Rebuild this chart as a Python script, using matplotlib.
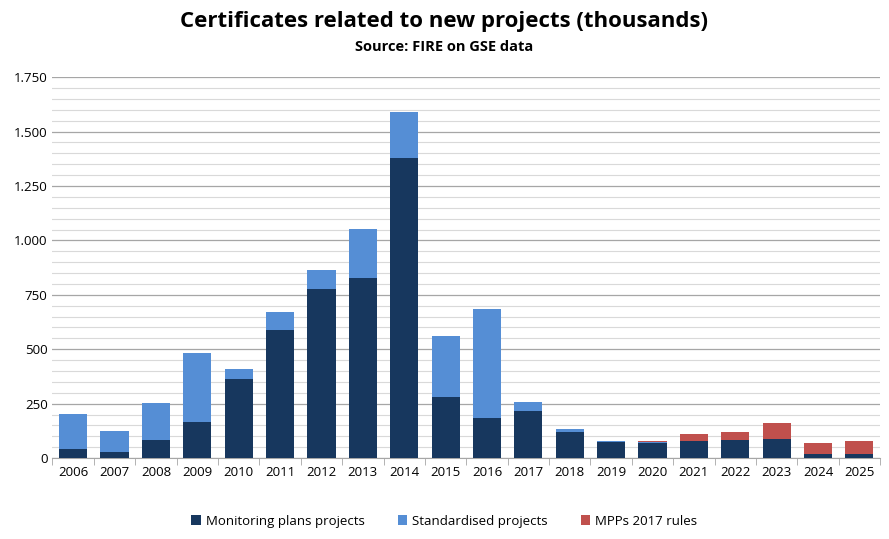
import numpy as np
import matplotlib
matplotlib.use('Agg')
import matplotlib.pyplot as plt
from matplotlib.ticker import MultipleLocator, FuncFormatter

plt.rcParams['font.family'] = ['Open Sans', 'DejaVu Sans']

# Data (thousands of certificates)
years = [str(y) for y in range(2006, 2026)]
monitoring = [40, 30, 83, 165, 363, 588, 776, 826, 1377, 280, 184, 216, 119, 75, 70, 78, 83, 87, 18, 18]
totals_std = [202, 124, 253, 482, 410, 670, 863, 1052, 1590, 560, 684, 257, 132, 78, 72, 78, 83, 87, 18, 18]
totals_all = [202, 124, 253, 482, 410, 670, 863, 1052, 1590, 560, 684, 257, 132, 78, 77, 110, 122, 161, 69, 77]
standardised = [s - m for s, m in zip(totals_std, monitoring)]
mpp2017 = [a - s for a, s in zip(totals_all, totals_std)]

fig = plt.figure(figsize=(8.89, 5.39), dpi=100)
ax = fig.add_axes([0.059, 0.15, 0.931, 0.707])
x = np.arange(len(years))
w = 0.68
ax.bar(x, monitoring, w, color='#17375E', label='Monitoring plans projects', zorder=3)
ax.bar(x, standardised, w, bottom=monitoring, color='#558ED5', label='Standardised projects', zorder=3)
ax.bar(x, mpp2017, w, bottom=totals_std, color='#C0504D', label='MPPs 2017 rules', zorder=3)

ax.set_ylim(0, 1750)
ax.set_xlim(-0.5, len(years) - 0.5)
ax.yaxis.set_major_locator(MultipleLocator(250))
ax.yaxis.set_minor_locator(MultipleLocator(50))
ax.yaxis.set_major_formatter(FuncFormatter(lambda v, p: f'{int(v):,}'.replace(',', '.')))
ax.grid(axis='y', which='major', color='#A6A6A6', linewidth=0.9, zorder=0)
ax.grid(axis='y', which='minor', color='#D9D9D9', linewidth=0.8, zorder=0)
ax.set_xticks(x)
ax.set_xticklabels(years)
ax.set_xticks(np.arange(-0.5, len(years)), minor=True)
ax.tick_params(axis='x', which='major', length=0, labelsize=9.5, pad=6)
ax.tick_params(axis='x', which='minor', length=5, color='#A6A6A6')
ax.tick_params(axis='y', which='both', length=0, labelsize=9.5)
for s in ['top', 'right', 'left']:
    ax.spines[s].set_visible(False)
ax.spines['bottom'].set_color('#A6A6A6')

fig.text(0.5, 0.96, 'Certificates related to new projects (thousands)', ha='center', va='center',
         fontsize=16, fontweight='bold')
fig.text(0.5, 0.912, 'Source: FIRE on GSE data', ha='center', va='center', fontsize=10.5, fontweight='bold')
fig.legend(loc='center', bbox_to_anchor=(0.5, 0.033), ncol=3, frameon=False, fontsize=9.5,
           handlelength=0.7, handleheight=0.7, columnspacing=2.5, handletextpad=0.4)
fig.savefig('out.png', dpi=100, facecolor='white')
